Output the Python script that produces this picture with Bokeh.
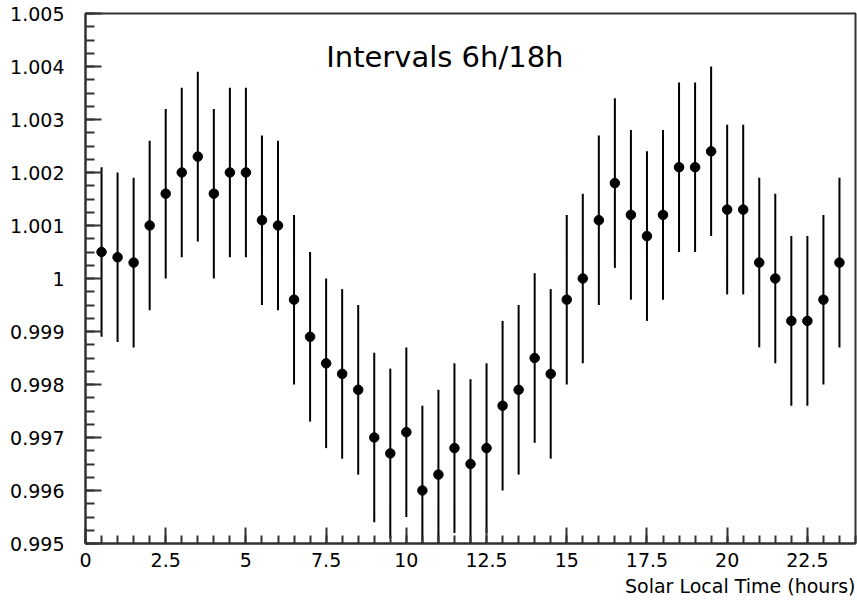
from bokeh.plotting import figure
from bokeh.models import Range1d, FixedTicker, Label, Title, ColumnDataSource
from bokeh.embed import file_html
from bokeh.resources import INLINE

# ---- data ----
hours = [0.5, 1.0, 1.5, 2.0, 2.5, 3.0, 3.5, 4.0, 4.5, 5.0, 5.5, 6.0,
         6.5, 7.0, 7.5, 8.0, 8.5, 9.0, 9.5, 10.0, 10.5, 11.0, 11.5, 12.0,
         12.5, 13.0, 13.5, 14.0, 14.5, 15.0, 15.5, 16.0, 16.5, 17.0, 17.5, 18.0,
         18.5, 19.0, 19.5, 20.0, 20.5, 21.0, 21.5, 22.0, 22.5, 23.0, 23.5]
ratio = [1.0005, 1.0004, 1.0003, 1.0010, 1.0016, 1.0020, 1.0023, 1.0016, 1.0020, 1.0020, 1.0011, 1.0010,
         0.9996, 0.9989, 0.9984, 0.9982, 0.9979, 0.9970, 0.9967, 0.9971, 0.9960, 0.9963, 0.9968, 0.9965,
         0.9968, 0.9976, 0.9979, 0.9985, 0.9982, 0.9996, 1.0000, 1.0011, 1.0018, 1.0012, 1.0008, 1.0012,
         1.0021, 1.0021, 1.0024, 1.0013, 1.0013, 1.0003, 1.0000, 0.9992, 0.9992, 0.9996, 1.0003]
errors = [0.0016] * len(hours)

x_ticks = [0, 2.5, 5, 7.5, 10, 12.5, 15, 17.5, 20, 22.5]
x_tick_labels = ["0", "2.5", "5", "7.5", "10", "12.5", "15", "17.5", "20", "22.5"]
y_ticks = [0.995, 0.996, 0.997, 0.998, 0.999, 1.000, 1.001, 1.002, 1.003, 1.004, 1.005]
y_tick_labels = ["0.995", "0.996", "0.997", "0.998", "0.999", "1", "1.001", "1.002", "1.003", "1.004", "1.005"]

title_text = "Intervals 6h/18h"
x_label = "Solar Local Time (hours)"

lower = [r - e for r, e in zip(ratio, errors)]
upper = [r + e for r, e in zip(ratio, errors)]
src = ColumnDataSource(dict(x=hours, y=ratio, lo=lower, hi=upper))

FONT = "DejaVu Sans"

p = figure(width=857, height=604, output_backend="svg", toolbar_location=None,
           x_range=Range1d(0, 24), y_range=Range1d(0.995, 1.005),
           min_border_left=85, min_border_right=2, min_border_top=13, min_border_bottom=61)
p.background_fill_color = "white"
p.border_fill_color = "white"
p.grid.visible = False
p.outline_line_color = "#333333"
p.outline_line_width = 2

minor_x = [i * 0.5 for i in range(0, 49)]
minor_y = [0.995 + i * 0.00025 for i in range(0, 41)]
p.xaxis.ticker = FixedTicker(ticks=x_ticks, minor_ticks=minor_x)
p.yaxis.ticker = FixedTicker(ticks=y_ticks, minor_ticks=minor_y)
p.xaxis.major_label_overrides = {t: l for t, l in zip(x_ticks, x_tick_labels)}
p.yaxis.major_label_overrides = {t: l for t, l in zip(y_ticks, y_tick_labels)}

for ax in (p.xaxis, p.yaxis):
    ax.axis_line_color = "#333333"
    ax.axis_line_width = 2
    ax.major_tick_line_color = "#333333"
    ax.minor_tick_line_color = "#333333"
    ax.major_tick_line_width = 2
    ax.minor_tick_line_width = 2
    ax.major_tick_out = 0
    ax.minor_tick_out = 0
    ax.major_label_text_font = FONT
    ax.major_label_text_font_size = "19px"
    ax.major_label_text_color = "black"

p.xaxis.major_tick_in = 16
p.xaxis.minor_tick_in = 8
p.yaxis.major_tick_in = 16
p.yaxis.minor_tick_in = 9
p.xaxis.major_label_standoff = 9
p.yaxis.major_label_standoff = 21

p.segment(x0="x", y0="lo", x1="x", y1="hi", source=src, line_color="black", line_width=2)
p.scatter(x="x", y="y", source=src, size=9.5, color="black")

p.add_layout(Label(x=11.2, y=1.00417, text=title_text, text_align="center",
                   text_baseline="middle", text_font=FONT, text_font_size="29px",
                   text_color="black", text_font_style="normal"))

p.add_layout(Title(text=x_label, align="right", text_font=FONT, text_font_size="19px",
                   text_font_style="normal", text_color="black", standoff=6), "below")

open("out.html", "w").write(file_html(p, INLINE))
